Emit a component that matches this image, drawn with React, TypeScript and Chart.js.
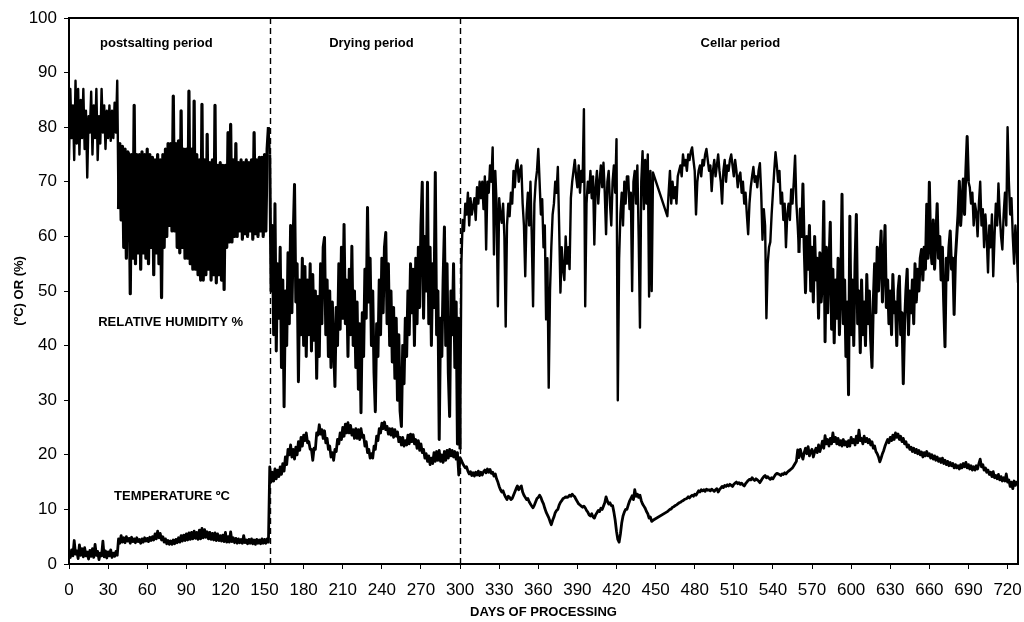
import React, { useEffect, useRef } from "react";
import { Chart, registerables } from "chart.js";

Chart.register(...registerables);

// ---------- data ----------
const xMin = 0;
const xMax = 728;
const xStep = 30;
const yMin = 0;
const yMax = 100;
const yStep = 10;

const periodNames = ["postsalting period", "Drying period", "Cellar period"];
const periodNameDays = [67, 232, 515];
const periodNameLevel = 95.4;
const periodBoundaries = [154, 300];

const seriesNames = ["RELATIVE HUMIDITY %", "TEMPERATURE ºC"];
const seriesNameDays = [78, 79];
const seriesNameLevels = [44.2, 12.3];

const postsaltingStart = 0;
const dryingStart = 154;
const cellarStart = 301;

// Relative humidity (%), one reading per day
const humidityPostsalting = [
  74, 87, 78, 84, 74, 88.5, 77, 87, 75, 85,
  78, 87, 76, 83, 70.8, 82, 79, 86.5, 75, 84,
  78, 87, 74, 82, 77, 87, 79, 84, 76, 83,
  78, 84, 77.5, 83, 78, 84.5, 79, 88.5, 65, 77,
  63, 76.5, 58, 76, 56, 75.5, 75, 49.5, 75, 56,
  84, 55, 75, 57, 75, 54, 75.5, 57, 75, 56,
  76, 55, 75, 58, 74.5, 53, 74, 57, 75, 55,
  74, 48.8, 75, 58, 76, 60, 77, 62, 77, 61,
  85.7, 61, 77, 58, 77.5, 57, 83, 58, 76, 56,
  76, 56, 86.6, 55, 76, 54, 84.8, 54, 75, 53,
  74, 52, 84.2, 52, 74, 53, 78.7, 54, 73.5, 52,
  74, 53, 84, 51.5, 73, 53, 73.5, 52, 73, 50.3,
  73, 58, 79, 59, 80.5, 59, 74, 60, 77, 60,
  73.5, 61, 74, 59.5, 73.5, 60.5, 74, 60, 73.5, 61,
  74, 59.5, 79, 60.5, 74, 60, 74.5, 61, 74.5, 60,
  75, 61, 76, 80,
];

const humidityDrying = [
  75, 50, 62, 42, 66, 39, 55, 45, 58, 36,
  52, 28.8, 50, 40, 57, 44, 62, 46, 60, 69.5,
  48, 55, 33.4, 52, 42, 56, 40, 54.5, 38, 52,
  42, 55, 39, 53, 41, 50, 34, 49, 38, 55,
  44, 58, 59.8, 42, 52, 38, 50, 36, 48, 40,
  32.5, 47, 40, 55, 43, 58, 45, 62.2, 44, 52,
  38, 54, 42, 58.2, 40, 50, 36, 48, 32, 44,
  27.7, 46, 38, 54, 45, 65.3, 48, 56, 40, 50,
  35, 27.9, 44, 38, 52, 42, 56, 46, 58, 60.7,
  44, 55, 40, 50, 37, 47, 34, 45, 30, 42,
  28, 25.2, 40, 33, 45, 38, 50, 42, 55, 46,
  54, 40, 56, 44, 58, 47, 62, 69.9, 45, 60,
  50, 69.9, 44, 58, 40, 55, 47, 71.7, 42, 50,
  22.8, 45, 38, 52, 61.7, 40, 55, 35, 27, 50,
  42, 55, 36, 48, 22, 45, 21,
];

const humidityCellar = [
  55, 63, 61, 66, 64, 68, 62, 67, 64, 65.5,
  67, 63, 69, 66, 70, 67, 70, 65, 71, 57.6,
  70, 68, 73, 70, 76.3, 56.7, 72, 66, 47.2, 67,
  64, 62.5, 66, 60, 43.5, 62, 66, 63.7, 68, 66,
  72, 69, 73, 74, 70, 72, 73, 66, 62, 52.7,
  64, 68, 62, 70, 60, 47.2, 66, 70, 72, 76,
  70, 64, 66.8, 58, 62, 44.8, 56, 32.3, 50, 58,
  64, 66, 70, 68, 72.7, 62, 49.7, 58, 54, 52,
  60, 55, 58, 54, 67, 70, 72, 74, 71, 69,
  73, 68, 72, 70, 83.3, 47.2, 66, 70, 68, 72,
  67, 71, 58.5, 69, 72, 66, 70, 73, 69, 73.5,
  68, 60.4, 70, 72, 66, 62, 70, 73, 68, 77.8,
  30, 55.8, 64, 68, 62, 70, 66, 71, 71, 65,
  68, 50, 70, 72, 66, 73, 60, 43.3, 70, 75.6,
  65, 74, 66, 75, 49, 72, 50, 71.7, null, null,
  null, null, null, null, null, null, null, null, 63.7, 68,
  72, 66, 70, 67, 69, 66, 71, 72, 73, 71,
  75, 73, 74, 72, 75, 74, 75.5, 76.3, 74, 72,
  64, 70, 72, 73, 71, 74, 73, 75, 76, 74,
  72, 73, 68.3, 72, 74, 71, 73, 75, 72, 70,
  66, 72, 74, 70, 73, 72, 74, 75, 73, 71,
  74, 72, 69, 71, 71.7, 68, 70, 66, 68, 64,
  60.4, 66, 69, 71, 72.7, 70, 71, 69, 72, 73.4,
  68, 59.4, 65, 62, 45, 55, 58, 59, 64, 68,
  72, 75.4, 73, 70, 72, 66, 68, 63, 66, 58,
  64, 66, 63, 68.6, 66, 70, 74.8, 66, 62, 57,
  65, 60, 69.6, 58, 49.7, 60, 54, 62, 50, 58,
  48, 60, 52, 56, 45, 57, 48, 52, 66.4, 40.7,
  58, 46, 55, 62.6, 43, 54, 40.5, 52, 45, 56,
  42, 50, 67.7, 44, 52, 38, 48, 31, 63.7, 42,
  52, 40, 55, 64, 44, 50, 38.7, 52, 42, 48,
  40, 53, 44, 50, 41, 36, 48, 55, 46, 58,
  50, 56, 61, 48, 55, 62, 47, 52, 44, 50,
  42, 53, 46, 48, 40, 50, 52.7, 42, 46, 33,
  44, 50, 54, 42, 50, 46, 52, 44, 55, 48,
  54, 50, 56, 57.6, 52, 58, 54, 65.9, 56, 69.9,
  58, 55, 63, 54, 60, 66, 56, 60, 52, 58,
  48, 39.8, 56, 52, 58, 61, 54, 56, 45.7, 56,
  60, 64, 70.1, 62, 66, 70.5, 64, 72, 78.3, 70,
  69, 66, 68, 62, 66, 64.4, 60, 66, 70, 62,
  65, 58, 64, 60, 53.4, 62, 58, 64, 52.7, 60,
  66, 62, 69.7, 64, 60, 57.6, 64, 68, 62, 80,
  70, 64, 67, 60, 55, 62, 58, 51.5,
];

// Temperature (ºC), one reading per day
const temperaturePostsalting = [
  2, 1.2, 2.6, 1.5, 4.3, 1.8, 2.4, 1, 3.5, 1.6,
  2.8, 1.3, 3, 1.5, 2.2, 0.9, 2.5, 1.4, 2.8, 1.2,
  3.6, 1.6, 2.3, 0.8, 2, 1.5, 4.2, 1.3, 2.4, 1.1,
  2.2, 1.5, 2.6, 1.2, 2, 1.4, 2.3, 1.6, 4.6, 3.8,
  5.2, 4, 4.8, 3.9, 5, 4.2, 4.7, 3.8, 4.9, 4.1,
  4.6, 3.9, 4.8, 4.1, 4.5, 3.8, 4.6, 4, 4.8, 4.2,
  4.7, 4.1, 4.9, 4.3, 5, 4.4, 5.5, 4.6, 6, 4.8,
  5.6, 4.4, 5, 4, 4.6, 3.7, 4.3, 3.6, 4.2, 3.6,
  4.4, 3.7, 4.5, 3.9, 4.8, 4, 5.2, 4.2, 5.3, 4.3,
  5.5, 4.4, 5.7, 4.5, 5.8, 4.6, 6, 4.7, 5.8, 4.5,
  6.2, 4.6, 6.5, 4.8, 6.3, 4.9, 5.9, 4.6, 5.8, 4.5,
  5.6, 4.4, 5.7, 4.3, 5.5, 4.3, 5.2, 4.2, 5.3, 4.1,
  5.8, 4, 5, 4, 5.9, 4.1, 4.8, 3.9, 4.7, 3.8,
  4.6, 3.9, 4.5, 3.8, 5.2, 3.9, 4.4, 3.7, 4.5, 3.8,
  4.6, 3.7, 4.4, 3.6, 4.5, 3.8, 4.4, 3.7, 4.6, 3.8,
  4.5, 3.8, 4.6, 4,
];

const temperatureDrying = [
  17.8, 15, 16.8, 15.2, 17.4, 15.6, 17.2, 16, 17.8, 16.4,
  18.4, 17, 19.6, 18.2, 21, 20, 21.8, 19.6, 21, 19.2,
  21.4, 20, 22.4, 20.8, 23.2, 21.6, 23.6, 22.6, 24, 22.2,
  22.4, 21, 21, 19, 21.2, 21, 24, 23.6, 25.5, 23.8,
  24.6, 23, 24.4, 22.2, 23, 21, 21.6, 19.6, 20.4, 19,
  21, 20.6, 22.8, 22, 24, 22.8, 25, 23.4, 25.6, 24,
  25.9, 24, 25.4, 23.6, 24.6, 23, 24.8, 23, 24.6, 22.8,
  24.8, 23.2, 23.6, 21.6, 22.4, 20.4, 21, 19.4, 20.2, 19.4,
  21.6, 21, 23.4, 22.6, 24.8, 24, 25.8, 24.8, 26, 24.6,
  25.2, 23.8, 24.8, 23.6, 24.8, 23.2, 24.6, 23.4, 24.2, 22.4,
  23.2, 21.8, 23.2, 21.6, 22.6, 21.8, 23.6, 22, 23.8, 22.4,
  23.7, 22, 22.8, 21.2, 22.6, 20.8, 22, 20.4, 21, 19.4,
  20.2, 18.8, 19.8, 18.2, 19.4, 18.4, 20.4, 18.8, 20.6, 19,
  20.8, 18.8, 20, 18.6, 20.6, 19, 20.8, 19.4, 21, 19.8,
  20.8, 19.6, 20.6, 19.2, 20.4, 16.3, 19.5,
];

const temperatureCellar = [
  19, 18.4, 18, 17.6, 17.8, 17, 16.5, 16.9, 16.2, 16.7,
  16.1, 16.8, 16.3, 17, 16.2, 16.8, 16.3, 16.9, 17.2, 16.7,
  17.4, 16.8, 17.3, 16.6, 16.8, 16.1, 16.5, 15.6, 15, 14.2,
  13.6, 13.2, 13.4, 12.7, 12.2, 11.8, 12.4, 12.2, 11.8, 12,
  12.6, 13.2, 13.8, 14.3, 13.6, 14, 14.3, 13.2, 12.6, 12.2,
  11.8, 12, 11.4, 11, 10.6, 10.3, 10.8, 11.4, 12, 12.2,
  12.6, 12.2, 11.5, 11, 10.2, 9.5, 9, 8.5, 7.8, 7.2,
  8, 8.6, 9.4, 9.8, 10, 10.8, 11.3, 11.6, 12, 12.1,
  12.3, 12.2, 12.3, 12.6, 12.4, 12.8, 12.5, 12.3, 11.8, 11.4,
  11, 10.8, 10.6, 10.4, 10.6, 10.3, 9.8, 9.5, 9, 8.8,
  9.2, 8.6, 8.4, 9, 9.4, 9.8, 9.6, 10.2, 10, 10.6,
  11.2, 12.3, 11.5, 11, 11.2, 10.7, 10.7, 9.5, 8, 6,
  4.5, 4, 5.5, 7.5, 8.8, 9.5, 10, 10, 10.8, 11.5,
  12, 12.5, 11.8, 13.6, 12.4, 12.8, 12.2, 12.6, 11.6, 11,
  10.6, 10.2, 9.6, 9.2, 8.4, 8.6, 7.8, 8, null, null,
  null, null, null, null, null, null, null, null, 9.6, 9.8,
  10, 10.1, 10.4, 10.5, 10.7, 10.8, 11, 11.2, 11.3, 11.5,
  11.6, 11.8, 11.9, 12, 12.3, 12.1, 12.4, 12.6, 12.4, 12.8,
  12.6, 13, 13.4, 13.2, 13.6, 13.4, 13.6, 13.3, 13.7, 13.5,
  13.6, 13.4, 13.7, 13.5, 13.3, 13.6, 13.8, 13.2, 13.6, 13.9,
  14.2, 14, 14.4, 14.2, 14.5, 14.3, 14.6, 14.4, 14.2, 14.6,
  14.8, 15, 14.7, 14.9, 14.6, 14.8, 14.5, 14.3, 14.7, 15,
  15.3, 15.5, 15.4, 15.8, 15.5, 15.3, 15.6, 15.4, 15.2, 14.9,
  15.3, 15.7, 16, 16.2, 15.8, 16, 15.7, 15.5, 15.8, 15.6,
  16, 16.4, 16.6, 16.5, 16.4, 16.2, 16.5, 16.4, 16.7, 16.5,
  16.8, 17, 17.2, 17.4, 17.6, 18, 18.4, 18.8, 20.9, 19.5,
  21, 20, 19.2, 20.4, 21.2, 20.2, 21.5, 19.8, 20.6, 21,
  19.6, 20.5, 21.2, 20.4, 21.8, 20.6, 21.4, 22.5, 21.2, 23.5,
  22, 22.8, 21.6, 23, 22, 24, 22.4, 23.2, 22, 23,
  21.8, 22.6, 21.6, 22.8, 21.8, 22.4, 21.5, 22.6, 21.6, 23.2,
  22.2, 22.8, 21.8, 23.4, 22.2, 24.5, 22.6, 23, 22, 23.4,
  22.4, 23, 22.2, 22.8, 21.8, 22.4, 21.2, 21.6, 20.6, 20.2,
  19.6, 18.7, 19.4, 20.2, 20.8, 21.6, 22.2, 22.8, 22.2, 23.2,
  22.6, 23.6, 22.8, 24, 23.2, 23.8, 22.8, 23.4, 22.4, 23,
  22, 22.4, 21.4, 21.8, 21, 21.4, 20.6, 21.2, 20.4, 21,
  20.2, 20.8, 20, 20.5, 19.6, 20.4, 19.8, 20.6, 19.8, 20.2,
  19.4, 20, 19.2, 19.8, 19, 19.6, 18.8, 19.3, 18.6, 19.4,
  18.4, 19, 18.2, 18.8, 18, 18.6, 18, 18.4, 17.6, 18.2,
  17.6, 18, 17.4, 18.2, 17.6, 18.4, 17.8, 18.6, 17.6, 18.2,
  17.4, 18, 17.2, 17.8, 17.2, 18, 17.4, 18.4, 19.2, 17.8,
  18.2, 17.2, 17.6, 16.8, 17.2, 16.4, 16.8, 16, 16.9, 15.8,
  16.2, 15.6, 16.4, 15.4, 16, 15.2, 15.8, 15.2, 16.5, 15,
  15.4, 14.2, 15, 13.8, 15.2, 14.4, 15, 14.6,
];

// ---------- helpers ----------
type Pt = { x: number; y: number };
function toPoints(start: number, values: (number | null)[]): Pt[] {
  const out: Pt[] = [];
  values.forEach((v, i) => {
    if (v !== null && v !== undefined) out.push({ x: start + i, y: v });
  });
  return out;
}

// line weight per stretch of days (dense logging periods print as thick bands)
function humidityWidth(day: number): number {
  if (day >= 38 && day < 153) return 3.2;
  if (day >= 154 && day < 300) return 3.0;
  if (day >= 560 && day < 690) return 3.0;
  return 2.4;
}

const FONT = '"Liberation Sans", Arial, Helvetica, sans-serif';

const decorPlugin = {
  id: "decor",
  beforeDatasetsDraw(chart: any) {
    const { ctx, chartArea, scales } = chart;
    const xs = scales.x;
    ctx.save();
    ctx.strokeStyle = "#000";
    ctx.lineWidth = 1.4;
    ctx.setLineDash([6, 4]);
    periodBoundaries.forEach((d) => {
      const px = Math.round(xs.getPixelForValue(d)) + 0.5;
      ctx.beginPath();
      ctx.moveTo(px, chartArea.top);
      ctx.lineTo(px, chartArea.bottom);
      ctx.stroke();
    });
    ctx.restore();
  },
  afterDraw(chart: any) {
    const { ctx, chartArea, scales } = chart;
    const xs = scales.x;
    const ys = scales.y;
    ctx.save();
    ctx.fillStyle = "#000";
    ctx.font = `bold 13px ${FONT}`;
    ctx.textAlign = "center";
    ctx.textBaseline = "middle";
    periodNames.forEach((t, i) => {
      ctx.fillText(t, xs.getPixelForValue(periodNameDays[i]), ys.getPixelForValue(periodNameLevel));
    });
    seriesNames.forEach((t, i) => {
      ctx.fillText(t, xs.getPixelForValue(seriesNameDays[i]), ys.getPixelForValue(seriesNameLevels[i]));
    });
    ctx.strokeStyle = "#000";
    ctx.lineWidth = 2;
    ctx.setLineDash([]);
    ctx.strokeRect(chartArea.left, chartArea.top, chartArea.right - chartArea.left, chartArea.bottom - chartArea.top);
    ctx.restore();
  },
};

export default function App() {
  const canvasRef = useRef<HTMLCanvasElement | null>(null);

  useEffect(() => {
    const canvas = canvasRef.current;
    if (!canvas) return;
    Chart.defaults.font.family = FONT;
    Chart.defaults.color = "#000";

    const humidity = [
      ...toPoints(postsaltingStart, humidityPostsalting),
      ...toPoints(dryingStart, humidityDrying),
      ...toPoints(cellarStart, humidityCellar),
    ];
    const temperature = [
      ...toPoints(postsaltingStart, temperaturePostsalting),
      ...toPoints(dryingStart, temperatureDrying),
      ...toPoints(cellarStart, temperatureCellar),
    ];

    const chart = new Chart(canvas, {
      type: "line",
      data: {
        datasets: [
          {
            label: seriesNames[0],
            data: humidity,
            borderColor: "#000",
            borderWidth: 2.4,
            pointRadius: 0,
            tension: 0,
            borderJoinStyle: "round",
            segment: {
              borderWidth: (c: any) => humidityWidth(c.p0.parsed.x),
            },
          },
          {
            label: seriesNames[1],
            data: temperature,
            borderColor: "#000",
            borderWidth: 2.8,
            pointRadius: 0,
            tension: 0,
            borderJoinStyle: "round",
          },
        ],
      },
      options: {
        animation: false,
        responsive: false,
        maintainAspectRatio: false,
        layout: { padding: { top: 18, right: 6, left: 0, bottom: 0 } },
        plugins: {
          legend: { display: false },
          tooltip: { enabled: false },
        },
        scales: {
          x: {
            type: "linear",
            min: xMin,
            max: xMax,
            afterFit: (s: any) => {
              s.height = 58;
              s.paddingLeft = 0;
              s.paddingRight = 0;
            },
            ticks: {
              stepSize: xStep,
              includeBounds: false,
              padding: 11,
              maxRotation: 0,
              autoSkip: false,
              font: { size: 17 },
              color: "#000",
            },
            grid: { display: true, drawOnChartArea: false, drawTicks: true, tickLength: 5, color: "#000", lineWidth: 1 },
            border: { display: false },
            title: {
              display: true,
              text: "DAYS OF PROCESSING",
              font: { size: 13, weight: "bold" },
              color: "#000",
              padding: { top: 0, bottom: 2 },
            },
          },
          y: {
            min: yMin,
            max: yMax,
            afterFit: (s: any) => {
              s.width = 69;
            },
            ticks: {
              stepSize: yStep,
              padding: 7,
              font: { size: 17 },
              color: "#000",
            },
            grid: { display: true, drawOnChartArea: false, drawTicks: true, tickLength: 5, color: "#000", lineWidth: 1 },
            border: { display: false },
            title: {
              display: true,
              text: "(ºC) OR (%)",
              font: { size: 13, weight: "bold" },
              color: "#000",
              padding: { top: 12, bottom: 0 },
            },
          },
        },
      },
      plugins: [decorPlugin],
    } as any);

    return () => chart.destroy();
  }, []);

  return (
    <div style={{ position: "fixed", left: 0, top: 0, width: 1024, height: 622, background: "#fff" }}>
      <canvas ref={canvasRef} width={1024} height={622} style={{ display: "block", width: 1024, height: 622 }} />
    </div>
  );
}
